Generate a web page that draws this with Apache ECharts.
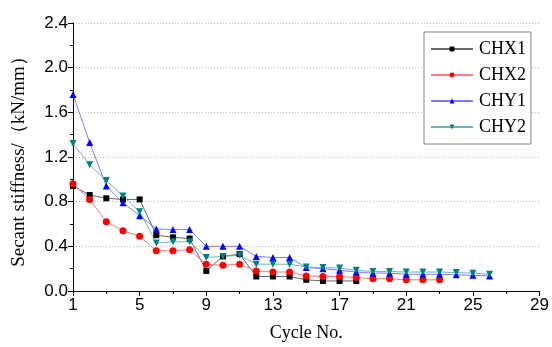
<!DOCTYPE html>
<html>
<head>
<meta charset="utf-8">
<script src="https://cdn.jsdelivr.net/npm/echarts@6/dist/echarts.min.js"></script>
<style>
  html, body { margin: 0; padding: 0; background: #fff; }
  #chart { width: 552px; height: 347px; }
</style>
</head>
<body>
<div id="chart"></div>
<script>
// cycle numbers (x) and secant stiffness (kN/mm) per specimen
const cycles = [1, 2, 3, 4, 5, 6, 7, 8, 9, 10, 11, 12, 13, 14, 15, 16, 17, 18, 19, 20, 21, 22, 23, 24, 25, 26];
const chx1 = [0.94, 0.86, 0.83, 0.82, 0.82, 0.50, 0.48, 0.47, 0.18, 0.31, 0.33, 0.13, 0.13, 0.13, 0.10, 0.09, 0.09, 0.09];
const chx2 = [0.96, 0.82, 0.62, 0.54, 0.49, 0.36, 0.36, 0.37, 0.24, 0.23, 0.24, 0.18, 0.17, 0.17, 0.135, 0.13, 0.13, 0.12, 0.11, 0.11, 0.10, 0.10, 0.10];
const chy1 = [1.76, 1.33, 0.94, 0.79, 0.675, 0.555, 0.55, 0.55, 0.40, 0.40, 0.40, 0.31, 0.30, 0.30, 0.21, 0.20, 0.185, 0.17, 0.16, 0.16, 0.15, 0.15, 0.15, 0.145, 0.14, 0.135];
const chy2 = [1.32, 1.13, 0.99, 0.85, 0.71, 0.43, 0.44, 0.44, 0.30, 0.31, 0.32, 0.24, 0.24, 0.24, 0.215, 0.21, 0.205, 0.185, 0.175, 0.175, 0.17, 0.17, 0.17, 0.165, 0.16, 0.15];

const xTicks = [1, 29];   // first / last tick label on the cycle axis
const yTicks = [0, 2.4];

const specimens = [
    { name: "CHX1", data: chx1, color: "#000000", line: "#666666", symbol: "rect", size: 6 },
    { name: "CHX2", data: chx2, color: "#ff0000", line: "#ff7a7a", symbol: "circle", size: 7 },
    { name: "CHY1", data: chy1, color: "#0000ff", line: "#7a7aff", symbol: "triangle", size: 7 },
    { name: "CHY2", data: chy2, color: "#008080", line: "#6fb5b5", symbol: "path://M0,0 L10,0 L5,9 Z", size: 7 }
];

// x axis is drawn as (cycle - 1) so ticks land on 1, 5, 9 ...
const x0 = xTicks[0];

const chart = echarts.init(document.getElementById("chart"), null, { renderer: "canvas" });

const sansLabel = { fontFamily: "Liberation Sans", fontSize: 17, color: "#000" };
const serifName = { fontFamily: "Liberation Serif", fontSize: 18, color: "#000" };

const option = {
    backgroundColor: "#fff",
    animation: false,
    grid: { left: 73, right: 10, top: 23, bottom: 54.5 },
    legend: {
        orient: "vertical",
        left: 424,
        top: 32,
        padding: [8, 5, 8, 6],
        itemGap: 8,
        itemWidth: 42,
        itemHeight: 6,
        borderColor: "#888",
        borderWidth: 1,
        backgroundColor: "#fff",
        textStyle: { fontFamily: "Liberation Serif", fontSize: 18, color: "#000", padding: [0, 0, 0, 1] },
        data: specimens.map(s => s.name)
    },
    xAxis: [
        {
            type: "value",
            min: 0,
            max: xTicks[1] - x0,
            interval: 4,
            name: "Cycle No.",
            nameLocation: "middle",
            nameGap: 33,
            nameTextStyle: serifName,
            axisLine: { show: true, lineStyle: { color: "#000", width: 1 } },
            axisTick: { show: true, inside: false, length: 5, lineStyle: { color: "#000" } },
            minorTick: { show: true, splitNumber: 2, length: 3, lineStyle: { color: "#000" } },
            axisLabel: { ...sansLabel, margin: 6, formatter: v => String(v + x0) },
            splitLine: { show: false }
        },
        {
            type: "value",
            position: "top",
            min: 0,
            max: xTicks[1] - x0,
            interval: 4,
            axisLine: { show: true, lineStyle: { color: "#000", width: 1 } },
            axisTick: { show: true, inside: true, length: 5, lineStyle: { color: "#000" } },
            minorTick: { show: true, splitNumber: 2, length: 3, lineStyle: { color: "#000" } },
            axisLabel: { show: false },
            splitLine: { show: false }
        }
    ],
    yAxis: [
        {
            type: "value",
            min: yTicks[0],
            max: yTicks[1],
            interval: 0.4,
            name: "Secant stiffness/（kN/mm）",
            nameLocation: "middle",
            nameGap: 44,
            nameTextStyle: { ...serifName, fontSize: 19 },
            axisLine: { show: true, lineStyle: { color: "#000", width: 1 } },
            axisTick: { show: true, inside: false, length: 5, lineStyle: { color: "#000" } },
            minorTick: { show: true, splitNumber: 2, length: 3, lineStyle: { color: "#000" } },
            axisLabel: { ...sansLabel, margin: 5, formatter: v => v.toFixed(1) },
            splitLine: { show: true, lineStyle: { color: "#bbb", type: [1, 2], width: 1 } }
        },
        {
            type: "value",
            position: "right",
            min: yTicks[0],
            max: yTicks[1],
            interval: 0.4,
            axisLine: { show: true, lineStyle: { color: "#000", width: 1 } },
            axisTick: { show: true, inside: true, length: 5, lineStyle: { color: "#000" } },
            minorTick: { show: true, splitNumber: 2, length: 3, lineStyle: { color: "#000" } },
            axisLabel: { show: false },
            splitLine: { show: false }
        }
    ],
    series: specimens.map(s => ({
        name: s.name,
        type: "line",
        xAxisIndex: 0,
        yAxisIndex: 0,
        data: s.data.map((v, i) => [cycles[i] - x0, v]),
        symbol: s.symbol,
        symbolSize: s.size,
        showSymbol: true,
        itemStyle: { color: s.color },
        lineStyle: { color: s.line, width: 1 }
    }))
};

chart.setOption(option);
</script>
</body>
</html>
